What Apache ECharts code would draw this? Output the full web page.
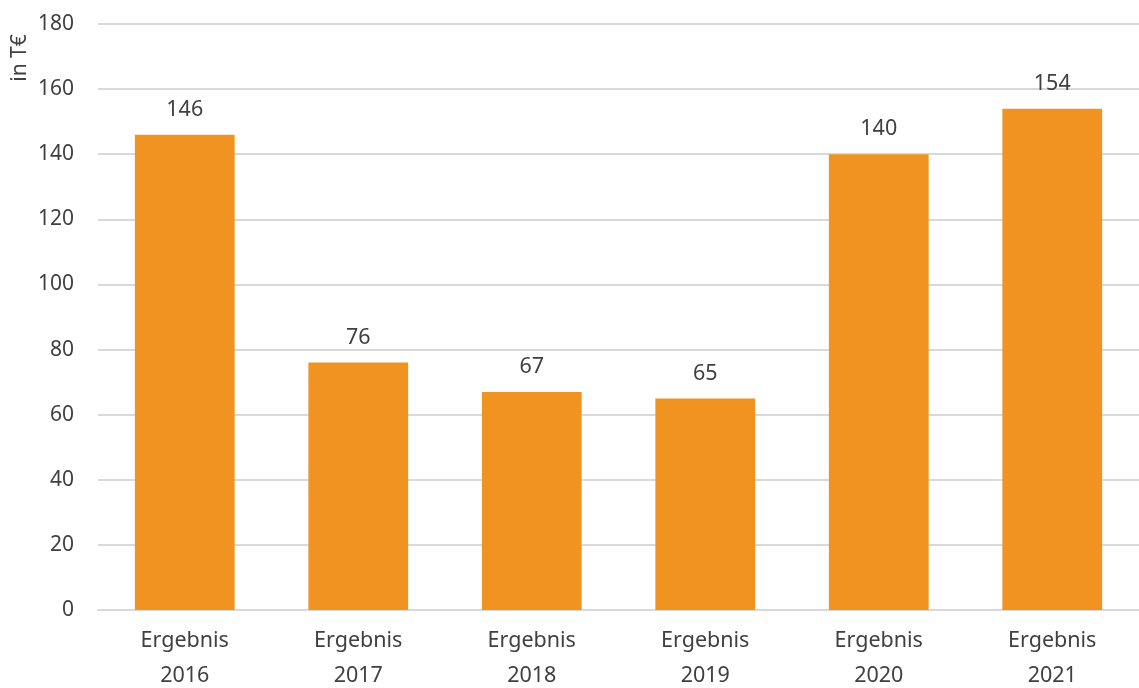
<!DOCTYPE html>
<html><head><meta charset="utf-8">
<script src="https://cdn.jsdelivr.net/npm/echarts@6/dist/echarts.min.js"></script>
<style>html,body{margin:0;padding:0;background:#fff}#c{width:1139px;height:688px}</style>
</head><body><div id="c"></div>
<script>
const categories = ["Ergebnis\n2016","Ergebnis\n2017","Ergebnis\n2018","Ergebnis\n2019","Ergebnis\n2020","Ergebnis\n2021"];
const values = [146, 76, 67, 65, 140, 154];
const yTicks = {min: 0, max: 180, interval: 20};
const unitLabel = "in T€";

const font = "'Noto Sans', 'Open Sans', sans-serif";
const chart = echarts.init(document.getElementById('c'));
chart.setOption({
  animation: false,
  grid: {left: 98, right: 0, top: 24, bottom: 78, outerBoundsMode: 'none', containLabel: false},
  xAxis: {
    type: 'category', data: categories,
    axisLine: {show: true, lineStyle: {color: '#d9d9d9', width: 2}},
    axisTick: {show: false},
    axisLabel: {color: '#404040', fontFamily: font, fontSize: 21.5, lineHeight: 35, margin: 13}
  },
  yAxis: {
    type: 'value', min: yTicks.min, max: yTicks.max, interval: yTicks.interval,
    axisLine: {show: false}, axisTick: {show: false},
    axisLabel: {color: '#404040', fontFamily: font, fontSize: 21, margin: 24},
    splitLine: {lineStyle: {color: '#d9d9d9', width: 2}}
  },
  graphic: [{
    type: 'text', x: 10, y: 58, rotation: Math.PI / 2,
    style: {text: unitLabel, fill: '#404040', font: "21px " + font, align: 'center', verticalAlign: 'top'}
  }],
  series: [{
    type: 'bar', data: values, barCategoryGap: '42.5%',
    itemStyle: {color: '#F09321'},
    label: {show: true, position: 'top', distance: 14, color: '#404040', fontFamily: font, fontSize: 21.5}
  }]
});
</script></body></html>
